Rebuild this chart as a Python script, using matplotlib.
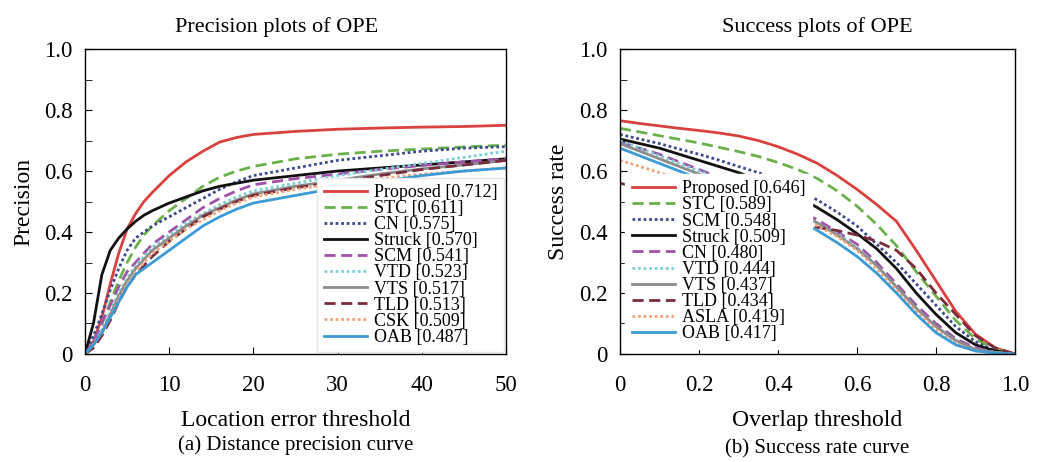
import numpy as np
import matplotlib.pyplot as plt
from matplotlib.ticker import MultipleLocator

plt.rcParams['font.family'] = ['Liberation Serif', 'DejaVu Serif']

# ---- precision plot data (location error threshold) ----
prec_x = [0, 1, 2, 3, 4, 5, 6, 7, 8, 10, 12, 14, 16, 18, 20, 25, 30, 35, 40, 45, 50]
prec_names = ['Proposed [0.712]', 'STC [0.611]', 'CN [0.575]', 'Struck [0.570]', 'SCM [0.541]',
              'VTD [0.523]', 'VTS [0.517]', 'TLD [0.513]', 'CSK [0.509]', 'OAB [0.487]']
prec_proposed = [0, 0.04, 0.12, 0.23, 0.33, 0.41, 0.46, 0.50, 0.53, 0.585, 0.63, 0.665, 0.695, 0.71, 0.72, 0.73, 0.737, 0.741, 0.744, 0.746, 0.75]
prec_stc = [0, 0.04, 0.10, 0.17, 0.24, 0.30, 0.35, 0.39, 0.42, 0.47, 0.51, 0.55, 0.58, 0.60, 0.615, 0.64, 0.655, 0.665, 0.672, 0.679, 0.685]
prec_cn = [0, 0.06, 0.13, 0.21, 0.28, 0.34, 0.38, 0.40, 0.42, 0.45, 0.48, 0.51, 0.54, 0.565, 0.585, 0.61, 0.635, 0.65, 0.665, 0.675, 0.68]
prec_struck = [0, 0.10, 0.26, 0.34, 0.38, 0.41, 0.435, 0.455, 0.47, 0.495, 0.515, 0.535, 0.55, 0.56, 0.57, 0.585, 0.60, 0.61, 0.62, 0.63, 0.64]
prec_scm = [0, 0.04, 0.10, 0.16, 0.22, 0.27, 0.30, 0.33, 0.36, 0.40, 0.44, 0.48, 0.51, 0.535, 0.555, 0.575, 0.59, 0.605, 0.618, 0.63, 0.64]
prec_vtd = [0, 0.03, 0.08, 0.14, 0.20, 0.25, 0.29, 0.32, 0.35, 0.39, 0.43, 0.46, 0.49, 0.515, 0.535, 0.56, 0.585, 0.605, 0.625, 0.645, 0.665]
prec_vts = [0, 0.03, 0.07, 0.13, 0.19, 0.24, 0.28, 0.31, 0.34, 0.38, 0.42, 0.455, 0.48, 0.505, 0.525, 0.55, 0.57, 0.59, 0.607, 0.62, 0.635]
prec_tld = [0, 0.02, 0.06, 0.11, 0.17, 0.22, 0.26, 0.29, 0.32, 0.37, 0.41, 0.45, 0.475, 0.50, 0.52, 0.545, 0.565, 0.585, 0.605, 0.62, 0.635]
prec_csk = [0, 0.03, 0.07, 0.12, 0.18, 0.23, 0.27, 0.30, 0.33, 0.37, 0.41, 0.44, 0.47, 0.495, 0.515, 0.54, 0.56, 0.575, 0.59, 0.60, 0.61]
prec_oab = [0, 0.03, 0.07, 0.12, 0.17, 0.22, 0.26, 0.28, 0.30, 0.34, 0.38, 0.42, 0.45, 0.475, 0.495, 0.52, 0.545, 0.565, 0.585, 0.60, 0.61]

# ---- success plot data (overlap threshold) ----
succ_x = [0, 0.05, 0.1, 0.15, 0.2, 0.25, 0.3, 0.35, 0.4, 0.45, 0.5, 0.55, 0.6, 0.65, 0.7, 0.75, 0.8, 0.85, 0.9, 0.95, 1.0]
succ_names = ['Proposed [0.646]', 'STC [0.589]', 'SCM [0.548]', 'Struck [0.509]', 'CN [0.480]',
              'VTD [0.444]', 'VTS [0.437]', 'TLD [0.434]', 'ASLA [0.419]', 'OAB [0.417]']
succ_proposed = [0.765, 0.756, 0.748, 0.74, 0.733, 0.725, 0.715, 0.70, 0.68, 0.655, 0.625, 0.585, 0.54, 0.49, 0.435, 0.34, 0.24, 0.14, 0.065, 0.02, 0.0]
succ_stc = [0.74, 0.728, 0.716, 0.704, 0.692, 0.678, 0.664, 0.648, 0.628, 0.605, 0.575, 0.535, 0.485, 0.425, 0.355, 0.27, 0.19, 0.11, 0.05, 0.015, 0.0]
succ_scm = [0.72, 0.705, 0.69, 0.672, 0.655, 0.636, 0.615, 0.595, 0.57, 0.54, 0.505, 0.465, 0.42, 0.36, 0.30, 0.23, 0.16, 0.09, 0.04, 0.01, 0.0]
succ_struck = [0.705, 0.69, 0.675, 0.655, 0.635, 0.615, 0.595, 0.57, 0.545, 0.515, 0.48, 0.44, 0.395, 0.345, 0.28, 0.20, 0.13, 0.07, 0.03, 0.01, 0.0]
succ_cn = [0.695, 0.675, 0.655, 0.63, 0.605, 0.58, 0.555, 0.53, 0.50, 0.47, 0.44, 0.40, 0.36, 0.30, 0.23, 0.16, 0.10, 0.05, 0.02, 0.005, 0.0]
succ_vtd = [0.70, 0.675, 0.65, 0.625, 0.60, 0.575, 0.55, 0.52, 0.49, 0.46, 0.43, 0.395, 0.35, 0.29, 0.22, 0.15, 0.09, 0.04, 0.015, 0.005, 0.0]
succ_vts = [0.69, 0.665, 0.64, 0.615, 0.59, 0.565, 0.54, 0.515, 0.49, 0.46, 0.43, 0.39, 0.345, 0.29, 0.22, 0.15, 0.09, 0.045, 0.015, 0.005, 0.0]
succ_tld = [0.56, 0.545, 0.53, 0.51, 0.49, 0.47, 0.46, 0.45, 0.44, 0.43, 0.415, 0.405, 0.39, 0.37, 0.34, 0.28, 0.20, 0.13, 0.06, 0.02, 0.0]
succ_asla = [0.635, 0.615, 0.595, 0.575, 0.555, 0.535, 0.515, 0.495, 0.475, 0.45, 0.42, 0.385, 0.34, 0.28, 0.21, 0.14, 0.08, 0.035, 0.01, 0.003, 0.0]
succ_oab = [0.675, 0.65, 0.625, 0.60, 0.575, 0.55, 0.525, 0.50, 0.47, 0.44, 0.405, 0.365, 0.32, 0.265, 0.20, 0.13, 0.07, 0.03, 0.01, 0.003, 0.0]

prec_series = [prec_proposed, prec_stc, prec_cn, prec_struck, prec_scm,
               prec_vtd, prec_vts, prec_tld, prec_csk, prec_oab]
succ_series = [succ_proposed, succ_stc, succ_scm, succ_struck, succ_cn,
               succ_vtd, succ_vts, succ_tld, succ_asla, succ_oab]

# styles per legend slot (same order in both panels)
dash = (0, (4, 2))
dot = (0, (1, 1))
styles = [('#d9413f', '-'), ('#6ab04c', dash), ('#3c4a8c', dot), ('#111111', '-'),
          ('#a052a8', dash), ('#7ccfd6', dot), ('#8c8c8c', '-'), ('#7a2c3c', dash),
          ('#f0a27a', dot), ('#3c9bd6', '-')]

fig = plt.figure(figsize=(10.38, 4.62), dpi=100)
ax1 = fig.add_axes([0.0819, 0.2338, 0.4056, 0.660])
ax2 = fig.add_axes([0.5973, 0.2338, 0.3805, 0.660])

for i in range(10):
    ax1.plot(prec_x, prec_series[i], color=styles[i][0], linestyle=styles[i][1],
             lw=2, label=prec_names[i])
    ax2.plot(succ_x, succ_series[i], color=styles[i][0], linestyle=styles[i][1],
             lw=2, label=succ_names[i])

ticklab = ['0', '0.2', '0.4', '0.6', '0.8', '1.0']

ax1.set_xlim(0, 50)
ax1.set_ylim(0, 1)
ax1.set_xticks([0, 10, 20, 30, 40, 50])
ax1.set_yticks([0, 0.2, 0.4, 0.6, 0.8, 1.0])
ax1.set_yticklabels(ticklab)
ax1.set_title('Precision plots of OPE', fontsize=16, pad=12, x=0.455)
ax1.set_xlabel('Location error threshold', fontsize=17, labelpad=10)
ax1.set_ylabel('Precision', fontsize=17, labelpad=7)

ax2.set_xlim(0, 1)
ax2.set_ylim(0, 1)
ax2.set_xticks([0, 0.2, 0.4, 0.6, 0.8, 1.0])
ax2.set_xticklabels(ticklab)
ax2.set_yticks([0, 0.2, 0.4, 0.6, 0.8, 1.0])
ax2.set_yticklabels(ticklab)
ax2.set_title('Success plots of OPE', fontsize=16, pad=12)
ax2.set_xlabel('Overlap threshold', fontsize=17, labelpad=10)
ax2.set_ylabel('Success rate', fontsize=17, labelpad=7)

for ax in [ax1, ax2]:
    ax.yaxis.set_minor_locator(MultipleLocator(0.1))
    ax.tick_params(which='both', direction='in', length=5, labelsize=16.5, pad=9)
    ax.tick_params(axis='x', pad=15)
    for s in ax.spines.values():
        s.set_linewidth(1.0)

ax1.legend(loc='lower right', fontsize=13, handlelength=2.4, labelspacing=-0.05,
           borderpad=0.35, handletextpad=0.4, borderaxespad=0.1, fancybox=False,
           framealpha=1, edgecolor='#e6e6e6')
ax2.legend(loc='lower left', fontsize=13, handlelength=2.4, labelspacing=-0.05,
           borderpad=0.35, handletextpad=0.4, borderaxespad=0.3, fancybox=False,
           framealpha=1, edgecolor='#ffffff')

fig.text(0.2847, 0.027, '(a) Distance precision curve', ha='center', fontsize=15)
fig.text(0.7876, 0.018, '(b) Success rate curve', ha='center', fontsize=15)

fig.savefig('out.png', dpi=100)
